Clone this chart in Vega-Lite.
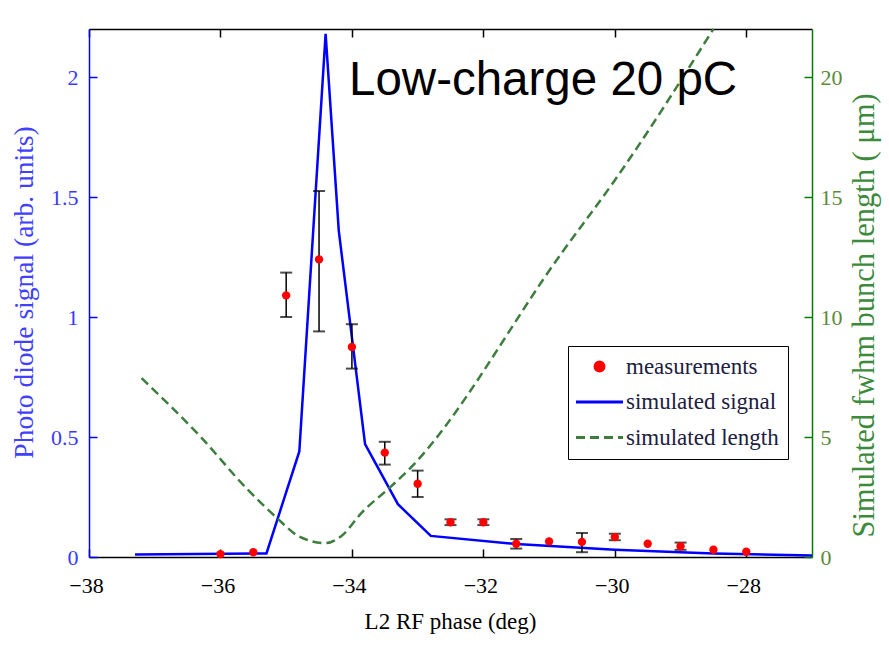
{
  "$schema": "https://vega.github.io/schema/vega-lite/v6.json",
  "width": 723,
  "height": 528,
  "autosize": "none",
  "padding": {"left": 89, "top": 29, "right": 77, "bottom": 92},
  "background": "white",
  "title": {"text": "Low-charge 20 pC", "anchor": "start", "frame": "group", "font": "Liberation Sans", "fontSize": 47.5, "fontWeight": "normal", "color": "black", "offset": 0, "dx": 260, "dy": 118, "baseline": "alphabetic"},
  "datasets": {
    "meas": [
      {"x": -36.0, "y": 0.012, "lo": null, "hi": null},
      {"x": -35.5, "y": 0.02, "lo": null, "hi": null},
      {"x": -35.0, "y": 1.09, "lo": 1.0, "hi": 1.185},
      {"x": -34.5, "y": 1.24, "lo": 0.94, "hi": 1.525},
      {"x": -34.0, "y": 0.875, "lo": 0.785, "hi": 0.97},
      {"x": -33.5, "y": 0.435, "lo": 0.385, "hi": 0.48},
      {"x": -33.0, "y": 0.305, "lo": 0.25, "hi": 0.36},
      {"x": -32.5, "y": 0.145, "lo": 0.133, "hi": 0.157},
      {"x": -32.0, "y": 0.145, "lo": 0.133, "hi": 0.157},
      {"x": -31.5, "y": 0.055, "lo": 0.035, "hi": 0.075},
      {"x": -31.0, "y": 0.065, "lo": null, "hi": null},
      {"x": -30.5, "y": 0.063, "lo": 0.02, "hi": 0.1},
      {"x": -30.0, "y": 0.083, "lo": 0.07, "hi": 0.097},
      {"x": -29.5, "y": 0.055, "lo": null, "hi": null},
      {"x": -29.0, "y": 0.045, "lo": 0.03, "hi": 0.06},
      {"x": -28.5, "y": 0.03, "lo": null, "hi": null},
      {"x": -28.0, "y": 0.022, "lo": null, "hi": null}
    ],
    "signal": [
      {"x": -37.3, "y": 0.01},
      {"x": -35.3, "y": 0.015},
      {"x": -34.8, "y": 0.44},
      {"x": -34.4, "y": 2.18},
      {"x": -34.2, "y": 1.36},
      {"x": -33.8, "y": 0.47},
      {"x": -33.3, "y": 0.22},
      {"x": -32.8, "y": 0.088},
      {"x": -31.5, "y": 0.054},
      {"x": -30.0, "y": 0.03},
      {"x": -28.5, "y": 0.015},
      {"x": -27.0, "y": 0.006}
    ],
    "length": [
      {"x": -37.2, "len": 7.45},
      {"x": -36.3, "len": 5.0},
      {"x": -35.6, "len": 2.85},
      {"x": -35.15, "len": 1.65},
      {"x": -34.8, "len": 0.85},
      {"x": -34.4, "len": 0.58},
      {"x": -34.15, "len": 0.9},
      {"x": -33.85, "len": 1.85},
      {"x": -33.4, "len": 2.95},
      {"x": -33.15, "len": 3.6},
      {"x": -30.8, "len": 12.7},
      {"x": -30.0, "len": 15.7},
      {"x": -28.5, "len": 22.0}
    ]
  },
  "layer": [
    {
      "data": {"name": "signal"},
      "mark": {"type": "line", "color": "#0000ff", "strokeWidth": 2.5},
      "encoding": {
        "x": {"field": "x", "type": "quantitative", "scale": {"domain": [-38, -27], "nice": false, "zero": false},
          "axis": {"orient": "bottom", "values": [-38, -36, -34, -32, -30, -28], "grid": false, "labelFlush": false,
            "domainColor": "black", "domainWidth": 1.5, "tickColor": "black", "tickWidth": 1.5, "tickSize": -8,
            "labelFont": "Liberation Serif", "labelFontSize": 22, "labelColor": "black", "labelPadding": 26, "labelOffset": -3,
            "title": "L2 RF phase (deg)", "titleFont": "Liberation Serif", "titleFontSize": 23, "titleFontWeight": "normal", "titleColor": "black",
            "titleX": 361, "titleY": 71, "titleBaseline": "alphabetic", "titleAlign": "center", "titleAnchor": null}},
        "y": {"field": "y", "type": "quantitative", "scale": {"domain": [0, 2.2], "nice": false},
          "axis": {"orient": "left", "values": [0, 0.5, 1, 1.5, 2], "grid": false, "labelExpr": "'' + datum.value",
            "domainColor": "#0000ff", "domainWidth": 1.5, "tickColor": "#0000ff", "tickWidth": 1.5, "tickSize": -8,
            "labelFont": "Liberation Serif", "labelFontSize": 22, "labelColor": "#3a3aff", "labelPadding": 19,
            "title": "Photo diode signal (arb. units)", "titleFont": "Liberation Serif", "titleFontSize": 27.5, "titleFontWeight": "normal", "titleColor": "#4040ff",
            "titleX": -57, "titleY": 263, "titleAngle": 270, "titleBaseline": "alphabetic", "titleAlign": "center", "titleAnchor": null}},
        "color": {"datum": "simulated signal", "type": "nominal",
          "scale": {"domain": ["measurements", "simulated signal", "simulated length"], "range": ["#ff0000", "#0000ff", "#3d7d3d"]},
          "legend": {"title": null, "orient": "none", "legendX": 479, "legendY": 317, "strokeColor": "black", "fillColor": "white", "padding": 9,
            "labelFont": "Liberation Serif", "labelFontSize": 23, "labelColor": "#202040", "labelOffset": 15, "symbolSize": 400, "symbolOffset": 11, "symbolStrokeWidth": 3, "rowPadding": 11.5,
            "encode": {"symbols": {"update": {
              "shape": {"signal": "datum.value === 'measurements' ? 'circle' : 'M-2.35,0H2.35'"},
              "size": {"signal": "datum.value === 'measurements' ? 80 : 400"},
              "fill": {"signal": "datum.value === 'measurements' ? '#ff0000' : 'transparent'"},
              "stroke": {"signal": "datum.value === 'measurements' ? 'transparent' : (datum.value === 'simulated signal' ? '#0000ff' : '#2e8a2e')"},
              "strokeDash": {"signal": "datum.value === 'simulated length' ? [9, 5] : []"},
              "strokeWidth": {"value": 3},
              "opacity": {"value": 1}
            }}}}}
      }
    },
    {
      "data": {"name": "meas"},
      "mark": {"type": "errorbar", "ticks": {"size": 12, "thickness": 2, "color": "black"}, "rule": {"strokeWidth": 1.5, "color": "black"}},
      "encoding": {
        "x": {"field": "x", "type": "quantitative", "scale": {"domain": [-38, -27], "nice": false, "zero": false}, "axis": null},
        "y": {"field": "lo", "type": "quantitative", "scale": {"domain": [0, 2.2], "nice": false}, "axis": null},
        "y2": {"field": "hi"}
      }
    },
    {
      "data": {"name": "meas"},
      "mark": {"type": "point", "filled": true, "size": 70, "opacity": 1, "shape": "circle"},
      "encoding": {
        "x": {"field": "x", "type": "quantitative", "scale": {"domain": [-38, -27], "nice": false, "zero": false}, "axis": null},
        "y": {"field": "y", "type": "quantitative", "scale": {"domain": [0, 2.2], "nice": false}, "axis": null},
        "color": {"datum": "measurements", "type": "nominal"}
      }
    },
    {
      "data": {"name": "length"},
      "mark": {"type": "line", "strokeDash": [9, 5], "strokeWidth": 2.5, "interpolate": "monotone"},
      "encoding": {
        "x": {"field": "x", "type": "quantitative", "scale": {"domain": [-38, -27], "nice": false, "zero": false},
          "axis": {"orient": "top", "values": [-38, -36, -34, -32, -30, -28], "grid": false, "labels": false, "title": null,
            "domainColor": "black", "domainWidth": 1.5, "tickColor": "black", "tickWidth": 1.5, "tickSize": -8}},
        "y": {"field": "len", "type": "quantitative", "scale": {"domain": [0, 22], "nice": false},
          "axis": {"orient": "right", "values": [0, 5, 10, 15, 20], "grid": false,
            "domainColor": "#008000", "domainWidth": 1.5, "tickColor": "#008000", "tickWidth": 1.5, "tickSize": -8,
            "labelFont": "Liberation Serif", "labelFontSize": 22, "labelColor": "#5a8a3a", "labelPadding": 16,
            "title": "Simulated fwhm bunch length   (  μm)", "titleFont": "Liberation Serif", "titleFontSize": 30.5, "titleFontWeight": "normal", "titleColor": "#3d8a3d",
            "titleX": 61, "titleY": 286, "titleAngle": 270, "titleBaseline": "alphabetic", "titleAlign": "center", "titleAnchor": null}},
        "color": {"datum": "simulated length", "type": "nominal"}
      }
    }
  ],
  "resolve": {"scale": {"y": "independent"}, "axis": {"x": "independent", "y": "independent"}},
  "config": {"view": {"stroke": null}}
}
